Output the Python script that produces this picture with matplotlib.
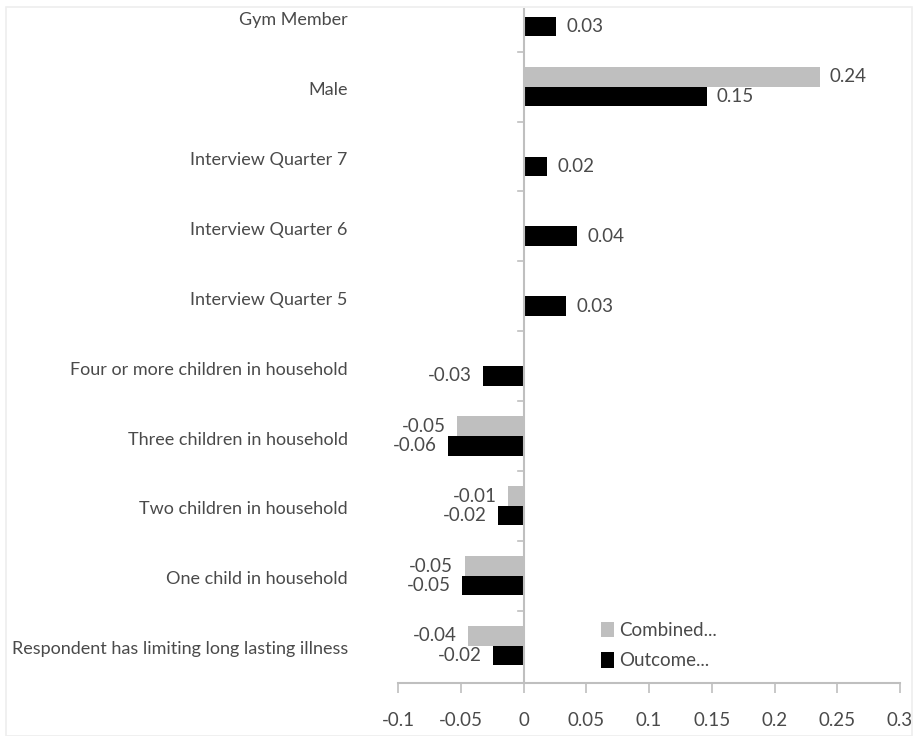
import numpy as np
import matplotlib
matplotlib.use("Agg")
import matplotlib.pyplot as plt
from matplotlib.patches import Rectangle

categories = ["Respondent has limiting long lasting illness", "One child in household",
              "Two children in household", "Three children in household",
              "Four or more children in household", "Interview Quarter 5",
              "Interview Quarter 6", "Interview Quarter 7", "Male", "Gym Member"]
combined = [-0.044, -0.047, -0.012, -0.053, np.nan, np.nan, np.nan, np.nan, 0.236, np.nan]
outcome = [-0.024, -0.049, -0.020, -0.060, -0.032, 0.034, 0.043, 0.019, 0.146, 0.026]
series_names = ["Combined...", "Outcome..."]
xticks = [-0.1, -0.05, 0, 0.05, 0.1, 0.15, 0.2, 0.25, 0.3]
xticklabels = ["-0.1", "-0.05", "0", "0.05", "0.1", "0.15", "0.2", "0.25", "0.3"]

plt.rcParams['font.family'] = ['Lato', 'DejaVu Sans']
W, H = 916, 736
fig = plt.figure(figsize=(W/100, H/100), dpi=100)
fig.patches.append(Rectangle((6/W, 0), (912-6)/W, (736-7)/H, transform=fig.transFigure,
                             fill=False, edgecolor="#EEEEEE", linewidth=1.2))
ax = fig.add_axes([398/W, (736-683)/H, (900-398)/W, (683-8)/H])

y = np.arange(len(categories))
h = 0.28
gray = "#BFBFBF"
tc = "#4A4A4A"
ax.barh(y + h/2, combined, height=h, color=gray, label=series_names[0], zorder=3)
ax.barh(y - h/2, outcome, height=h, color="black", label=series_names[1], zorder=3)

fs = 13.5
for i in range(len(categories)):
    for vals, off in ((combined, h/2), (outcome, -h/2)):
        v = vals[i]
        if np.isnan(v):
            continue
        if v >= 0:
            ax.text(v + 0.008, y[i] + off, f"{v:.2f}", ha="left", va="center", fontsize=fs, color=tc)
        else:
            ax.text(v - 0.009, y[i] + off, f"{v:.2f}", ha="right", va="center", fontsize=fs, color=tc)

ax.set_xlim(-0.1, 0.3)
ax.set_ylim(-0.534, 9.125)
ax.set_xticks(xticks)
ax.set_xticklabels(xticklabels, fontsize=fs, color=tc)
ax.set_yticks([])
for s in ("top", "right", "left"):
    ax.spines[s].set_visible(False)
ax.spines["bottom"].set_color("#BFBFBF")
ax.spines["bottom"].set_linewidth(1.5)
ax.tick_params(axis="x", length=7, width=1.2, color="#BFBFBF", pad=14)
ax.axvline(0, color="#BFBFBF", linewidth=1.5, zorder=4)
# y ticks at band boundaries on the zero line
for b in np.arange(0.5, 9.0, 1.0):
    ax.plot([-0.004, 0], [b, b], color="#BFBFBF", linewidth=1.2, zorder=4, clip_on=False)

for i, c in enumerate(categories):
    ax.text(-0.14, y[i] - 0.05, c, ha="right", va="center", fontsize=13, color=tc,
            transform=ax.transData, clip_on=False)

leg = ax.legend(loc="lower left", bbox_to_anchor=(0.37, -0.005), frameon=False, fontsize=fs,
                labelcolor=tc, handlelength=0.7, handleheight=0.9, handletextpad=0.3,
                labelspacing=0.7)
fig.savefig("out.png", dpi=100)
